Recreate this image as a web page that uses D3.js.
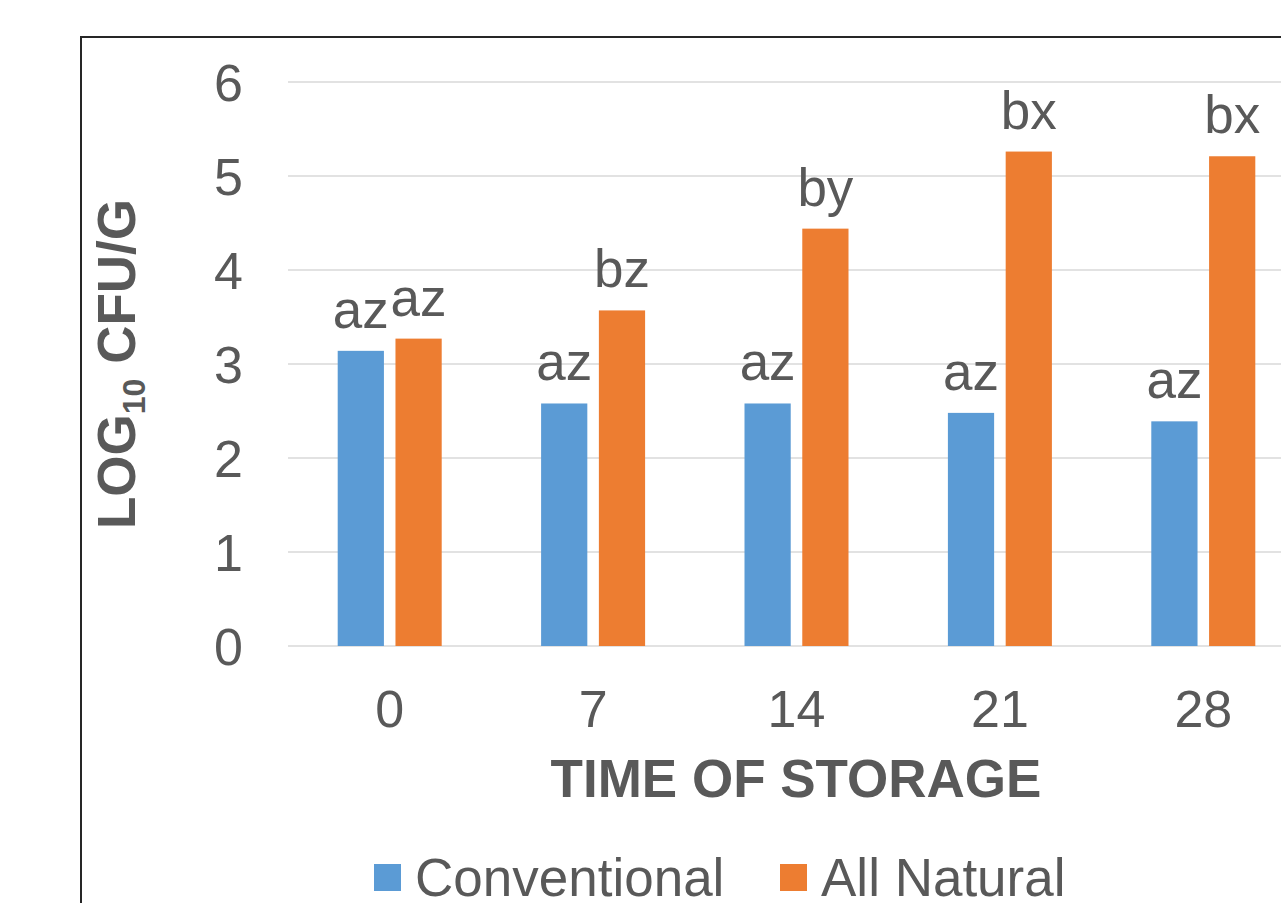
<!DOCTYPE html>
<html>
<head>
<meta charset="utf-8">
<script src="https://cdn.jsdelivr.net/npm/d3@7"></script>
<style>
	body { margin: 0; background: #fff; }
	text { font-family: "Liberation Sans", Arial, sans-serif; fill: #595959; }
</style>
</head>
<body>
<div id="chart"></div>
<script>
// chart data
var days = ["0", "7", "14", "21", "28"];
var seriesNames = ["Conventional", "All Natural"];
var conventional = [3.14, 2.58, 2.58, 2.48, 2.39];
var allNatural = [3.27, 3.57, 4.44, 5.26, 5.21];
var conventionalLabels = ["az", "az", "az", "az", "az"];
var allNaturalLabels = ["az", "bz", "by", "bx", "bx"];
var yTicks = [0, 1, 2, 3, 4, 5, 6];
var colors = ["#5b9bd5", "#ed7d31"];

var width = 1281;
var height = 903;

var svg = d3.select("#chart")
			.append("svg")
			.attr("width", width)
			.attr("height", height);

// outer chart frame (runs off the page on right and bottom)
svg.append("rect")
	.attr("x", 81)
	.attr("y", 37)
	.attr("width", 1400)
	.attr("height", 1000)
	.attr("fill", "none")
	.attr("stroke", "#262626")
	.attr("stroke-width", 2);

var plot = { left: 288, right: 1305, top: 82, bottom: 646 };

var x0 = d3.scaleBand()
		   .domain(days)
		   .range([plot.left, plot.right])
		   .padding(0);

var groupWidth = 104;
var x1 = d3.scaleBand()
		   .domain(seriesNames)
		   .range([0, groupWidth])
		   .paddingInner(0.2)
		   .paddingOuter(0);

var y = d3.scaleLinear()
		  .domain([0, 6])
		  .range([plot.bottom, plot.top]);

// gridlines
svg.append("g")
	.selectAll("line")
	.data(yTicks)
	.enter()
	.append("line")
	.attr("x1", plot.left)
	.attr("x2", plot.right)
	.attr("y1", function(d) { return y(d); })
	.attr("y2", function(d) { return y(d); })
	.attr("stroke", "#d9d9d9")
	.attr("stroke-width", 1.5);

// y axis labels
var yAxis = svg.append("g")
			   .attr("transform", "translate(243,0)")
			   .call(d3.axisLeft(y).tickValues(yTicks).tickFormat(d3.format("d")).tickSize(0).tickPadding(0));
yAxis.select(".domain").remove();
yAxis.selectAll("text")
	 .attr("font-size", 52)
	 .attr("font-family", null)
	 .attr("fill", "#595959")
	 .attr("dy", "0.36em");

// x axis labels
var xAxis = svg.append("g")
			   .attr("transform", "translate(0," + plot.bottom + ")")
			   .call(d3.axisBottom(x0).tickSize(0).tickPadding(0));
xAxis.select(".domain").remove();
xAxis.selectAll("text")
	 .attr("font-size", 52)
	 .attr("font-family", null)
	 .attr("fill", "#595959")
	 .attr("y", 81)
	 .attr("dy", 0);

// bars
var rows = days.map(function(d, i) {
	return {
		day: d,
		values: [
			{ series: seriesNames[0], value: conventional[i], label: conventionalLabels[i] },
			{ series: seriesNames[1], value: allNatural[i], label: allNaturalLabels[i] }
		]
	};
});

var offset = (x0.bandwidth() - groupWidth) / 2;

var group = svg.selectAll(".group")
			   .data(rows)
			   .enter()
			   .append("g")
			   .attr("transform", function(d) {
			   	   return "translate(" + (x0(d.day) + offset) + ",0)";
			   });

group.selectAll("rect")
	 .data(function(d) { return d.values; })
	 .enter()
	 .append("rect")
	 .attr("x", function(d) { return x1(d.series); })
	 .attr("y", function(d) { return y(d.value); })
	 .attr("width", x1.bandwidth())
	 .attr("height", function(d) { return y(0) - y(d.value); })
	 .attr("fill", function(d, i) { return colors[i]; });

group.selectAll(".lbl")
	 .data(function(d) { return d.values; })
	 .enter()
	 .append("text")
	 .attr("x", function(d) { return x1(d.series) + x1.bandwidth() / 2; })
	 .attr("y", function(d) { return y(d.value) - 23; })
	 .attr("text-anchor", "middle")
	 .attr("font-size", 53)
	 .attr("fill", "#404040")
	 .text(function(d) { return d.label; });

// axis titles
svg.append("text")
	.attr("x", 796)
	.attr("y", 797)
	.attr("text-anchor", "middle")
	.attr("font-size", 53)
	.attr("font-weight", "bold")
	.text("TIME OF STORAGE");

var yTitle = svg.append("text")
				.attr("transform", "translate(135,364) rotate(-90)")
				.attr("text-anchor", "middle")
				.attr("font-size", 53)
				.attr("font-weight", "bold");
yTitle.append("tspan").text("LOG");
yTitle.append("tspan").attr("font-size", 32).attr("dy", 10).text("10");
yTitle.append("tspan").attr("dy", -10).text(" CFU/G");

// legend
var legendX = [374, 780];
var legend = svg.selectAll(".legend")
				.data(seriesNames)
				.enter()
				.append("g")
				.attr("transform", function(d, i) { return "translate(" + legendX[i] + ",864)"; });

legend.append("rect")
	  .attr("width", 27)
	  .attr("height", 27)
	  .attr("fill", function(d, i) { return colors[i]; });

legend.append("text")
	  .attr("x", 41)
	  .attr("y", 32)
	  .attr("font-size", 53)
	  .text(function(d) { return d; });
</script>
</body>
</html>
